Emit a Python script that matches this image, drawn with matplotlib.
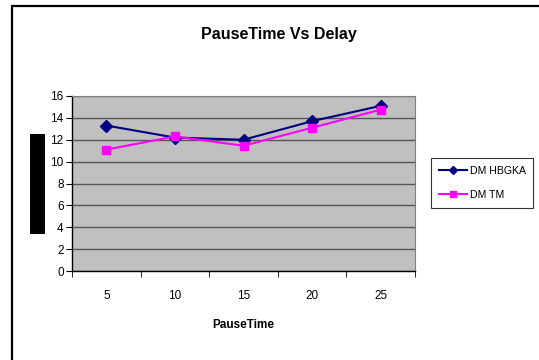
import matplotlib
matplotlib.use("Agg")
import matplotlib.pyplot as plt
from matplotlib.patches import Rectangle
import numpy as np

pause_time = ["5", "10", "15", "20", "25"]
dm_hbgka = [13.3, 12.2, 12.0, 13.7, 15.1]
dm_tm = [11.1, 12.3, 11.45, 13.1, 14.75]
y_ticks = [0, 2, 4, 6, 8, 10, 12, 14, 16]

plt.rcParams["font.family"] = ["Liberation Sans", "DejaVu Sans"]

fig = plt.figure(figsize=(5.39, 3.6), dpi=100)
fig.patch.set_facecolor("white")

# outer chart frame (top and left edges visible)
fig.add_artist(Rectangle((12 / 539, -0.1), 1.2, 1 - 6 / 360 + 0.1,
                         transform=fig.transFigure, fill=False,
                         edgecolor="black", linewidth=1.6))

# y-axis title block
fig.add_artist(Rectangle((30 / 539, 1 - 234 / 360), 15 / 539, 100 / 360,
                         transform=fig.transFigure, facecolor="black",
                         edgecolor="none"))

ax = fig.add_axes([72 / 539, 1 - 271 / 360, (415 - 72) / 539, (271 - 96) / 360])
ax.set_facecolor("#C0C0C0")

x = np.arange(len(pause_time))
ax.plot(x, dm_hbgka, color="#000080", marker="D", markersize=6,
        linewidth=1.5, label="DM HBGKA", zorder=3)
ax.plot(x, dm_tm, color="#FF00FF", marker="s", markersize=6,
        linewidth=1.5, label="DM TM", zorder=3)

ax.set_xlim(-0.5, len(pause_time) - 0.5)
ax.set_ylim(0, 16)
ax.set_yticks(y_ticks)
ax.set_yticklabels([str(v) for v in y_ticks], fontsize=8.5)
ax.set_xticks(x)
ax.set_xticklabels(pause_time, fontsize=8.5)
ax.set_xticks(np.arange(len(pause_time) + 1) - 0.5, minor=True)
ax.tick_params(axis="x", which="major", length=0, pad=14)
ax.tick_params(axis="x", which="minor", length=4, direction="out", color="black")
ax.tick_params(axis="y", length=4, direction="out", color="black", pad=2)

ax.yaxis.grid(True, color="#555555", linewidth=1.0)
ax.set_axisbelow(True)
for side in ("top", "right"):
    ax.spines[side].set_color("#808080")
    ax.spines[side].set_linewidth(0.8)
for side in ("left", "bottom"):
    ax.spines[side].set_color("black")
    ax.spines[side].set_linewidth(1.0)

ax.set_xlabel("PauseTime", fontsize=8.5, fontweight="bold", labelpad=12)
fig.text(279 / 539, 1 - 34 / 360, "PauseTime Vs Delay", ha="center",
         va="center", fontsize=11.5, fontweight="bold")

leg = fig.legend(loc="upper left", bbox_to_anchor=(431 / 539, 1 - 158 / 360),
                 fontsize=7.6, frameon=True, fancybox=False,
                 edgecolor="black", handlelength=2.7, borderpad=0.75,
                 labelspacing=1.3, handletextpad=0.2, borderaxespad=0,
                 markerscale=0.7)
leg.get_frame().set_linewidth(0.8)

fig.savefig("out.png", dpi=100)
